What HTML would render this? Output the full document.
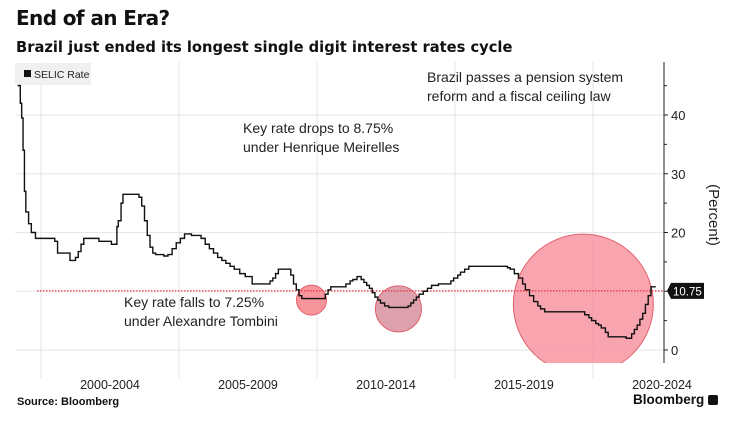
<!DOCTYPE html>
<html><head><meta charset="utf-8">
<style>
body{margin:0;background:#fff;font-family:"Liberation Sans",sans-serif;}
#wrap{position:relative;width:741px;height:422px;overflow:hidden;background:#fff;}
.t{position:absolute;white-space:nowrap;color:#111;}
</style></head><body>
<div id="wrap">
<div class="t" style="left:16px;top:6px;font-size:20px;font-weight:bold;font-family:'DejaVu Sans',sans-serif;letter-spacing:-0.6px">End of an Era?</div>
<div class="t" style="left:16px;top:39px;font-size:14.7px;font-weight:bold;font-family:'DejaVu Sans',sans-serif;">Brazil just ended its longest single digit interest rates cycle</div>
<svg id="chart" width="741" height="422" style="position:absolute;left:0;top:0"></svg>
<div class="t" style="left:17px;top:396px;font-size:11px;font-weight:bold;">Source: Bloomberg</div>
<div class="t" style="left:633px;top:392px;font-size:13.5px;font-weight:bold;">Bloomberg <span style="display:inline-block;width:10px;height:10px;background:#111;border-radius:2px;vertical-align:-1px"></span></div>
</div>
<script>
const years=[1999.15,1999.25,1999.3,1999.35,1999.4,1999.45,1999.55,1999.65,1999.8,2000.5,2000.6,2001.05,2001.25,2001.35,2001.45,2001.55,2002.1,2002.55,2002.75,2002.8,2002.9,2002.97,2003.0,2003.55,2003.65,2003.75,2003.85,2003.95,2004.05,2004.15,2004.45,2004.6,2004.75,2004.9,2005.05,2005.2,2005.35,2005.45,2005.8,2005.95,2006.1,2006.25,2006.4,2006.55,2006.7,2006.85,2007.0,2007.2,2007.4,2007.65,2008.3,2008.4,2008.5,2008.6,2008.75,2009.05,2009.15,2009.25,2009.35,2009.45,2010.3,2010.4,2010.5,2010.6,2011.05,2011.2,2011.3,2011.45,2011.6,2011.7,2011.8,2011.9,2012.0,2012.1,2012.2,2012.3,2012.45,2012.6,2012.75,2013.3,2013.4,2013.5,2013.6,2013.7,2013.85,2014.0,2014.15,2014.4,2014.85,2014.95,2015.1,2015.2,2015.35,2015.5,2016.75,2016.9,2017.0,2017.15,2017.3,2017.45,2017.55,2017.7,2017.85,2018.0,2018.1,2018.25,2019.6,2019.7,2019.85,2019.95,2020.1,2020.2,2020.3,2020.45,2020.55,2021.2,2021.3,2021.4,2021.5,2021.6,2021.7,2021.8,2021.9,2022.0,2022.1,2022.2];
const rates=[45,42,39.5,34,27,23.5,21.5,20,19,18.5,16.5,15.25,15.75,16.75,18,19,18.5,18,21,22,25,26.5,26.5,26,24.5,22,19.5,17.5,16.5,16.25,16,16.25,17.25,18.25,19,19.75,19.75,19.5,19,18,17.25,16.5,15.75,15.25,14.75,14.25,13.75,13,12.5,11.25,11.75,12.25,13,13.75,13.75,12.75,11.25,10.25,9.25,8.75,9.5,10.25,10.75,10.75,11.25,11.75,12,12.5,12,11.5,11,10.5,9.75,9,8.5,8,7.5,7.25,7.25,7.5,8,8.5,9,9.5,10,10.5,11,11.25,11.75,12.25,12.75,13.25,13.75,14.25,14.25,14,13.75,13,12.25,11.25,10.25,9.25,8.25,7.5,7,6.5,6.5,6,5.5,5,4.5,4.25,3.75,3,2.25,2,2,2.75,3.5,4.25,5.25,6.25,7.75,9.25,10.75,10.75];
const yTicks=[0,10,20,30,40];
const xGridYears=[2000,2005,2010,2015,2020];
const xLabels=["2000-2004","2005-2009","2010-2014","2015-2019","2020-2024"];
const lastRate=10.75;
const circles=[{yr:2009.8,v:8.5,r:15,fill:"#f58a90",op:0.9},{yr:2012.95,v:7,r:23,fill:"#d58a98",op:0.8},{yr:2019.65,v:7.8,r:70,fill:"#f78f9c",op:0.8}];

const NS="http://www.w3.org/2000/svg";
const svg=document.getElementById('chart');
const X=y=>41+(y-2000)*27.6;
const Y=v=>350-v*5.875;
const L=15,R=664,T=62,B=363;
function mk(tag,attrs,parent){const e=document.createElementNS(NS,tag);for(const k in attrs)e.setAttribute(k,attrs[k]);(parent||svg).appendChild(e);return e;}
yTicks.forEach(v=>{const g=mk('line',{x1:L,x2:R,y1:Y(v),y2:Y(v),stroke:'#e6e6e6','stroke-width':1});

});
xGridYears.forEach(y=>{const g=mk('line',{x1:X(y),x2:X(y),y1:T,y2:B+15,stroke:'#e6e6e6','stroke-width':1});

});
xLabels.forEach((s,i)=>{const t=mk('text',{x:X(xGridYears[i]+2.5),y:389,'text-anchor':'middle','font-size':12.5,fill:'#222','font-family':'Liberation Sans, sans-serif'});t.textContent=s;

});
const lg=mk('rect',{x:15,y:63,width:76,height:22,fill:'#f0f0f0'});


mk('rect',{x:24,y:70,width:7,height:7,fill:'#111'});
const lt=mk('text',{x:34,y:78,'font-size':10.5,fill:'#222','font-family':'Liberation Sans, sans-serif'});lt.textContent='SELIC Rate';


const defs=mk('defs',{});const cp=mk('clipPath',{id:'pc'},defs);mk('rect',{x:L,y:T,width:R-L,height:B-T},cp);
circles.forEach(c=>{const e=mk('circle',{cx:X(c.yr),cy:Y(c.v),r:c.r,fill:c.fill,'fill-opacity':c.op,stroke:'#e0606c','stroke-width':1,'clip-path':'url(#pc)'});

});
const rl=mk('line',{x1:37,x2:R,y1:Y(lastRate)+4,y2:Y(lastRate)+4,stroke:'#e8323e','stroke-width':1.3,'stroke-dasharray':'1.5,1.5'});


let d='';years.forEach((y,i)=>{if(i===0)d+='M'+X(y)+','+Y(rates[i]);else d+='H'+X(y)+'V'+Y(rates[i]);});
d+='H'+(X(years[years.length-1])+2);
const ln=mk('path',{d:d,fill:'none',stroke:'#111','stroke-width':1.4});


const ax=mk('line',{x1:R,x2:R,y1:T,y2:B,stroke:'#222','stroke-width':1});


for(let v=0;v<=45;v+=5){mk('line',{x1:R,x2:R+(v%10?3:4),y1:Y(v),y2:Y(v),stroke:'#222'});}
yTicks.forEach(v=>{const t=mk('text',{x:R+7,y:Y(v)+5,'font-size':13,fill:'#222','font-family':'Liberation Sans, sans-serif'});t.textContent=v;

});
const yt=mk('text',{x:0,y:0,'font-size':15,fill:'#222','font-family':'Liberation Sans, sans-serif','text-anchor':'middle',transform:'translate(709,215) rotate(90)'});yt.textContent='(Percent)';


const ly=Y(lastRate)+4;
const vb=mk('path',{d:`M${R+3},${ly} L${R+7},${ly-8} H${R+40} V${ly+8} H${R+7} Z`,fill:'#111'});


const vt=mk('text',{x:R+9,y:ly+4.5,'font-size':11.5,fill:'#fff','font-family':'Liberation Sans, sans-serif'});vt.textContent=lastRate.toFixed(2);


function ann(lines,x,y,name){lines.forEach((s,i)=>{const t=mk('text',{x:x,y:y+i*19,'font-size':14,fill:'#222','font-family':'Liberation Sans, sans-serif'});t.textContent=s;

});}
ann(['Key rate drops to 8.75%','under Henrique Meirelles'],243,133,'annotation-meirelles');
ann(['Key rate falls to 7.25%','under Alexandre Tombini'],124,307,'annotation-tombini');
ann(['Brazil passes a pension system','reform and a fiscal ceiling law'],427,82,'annotation-pension-reform');
</script>
</body></html>
